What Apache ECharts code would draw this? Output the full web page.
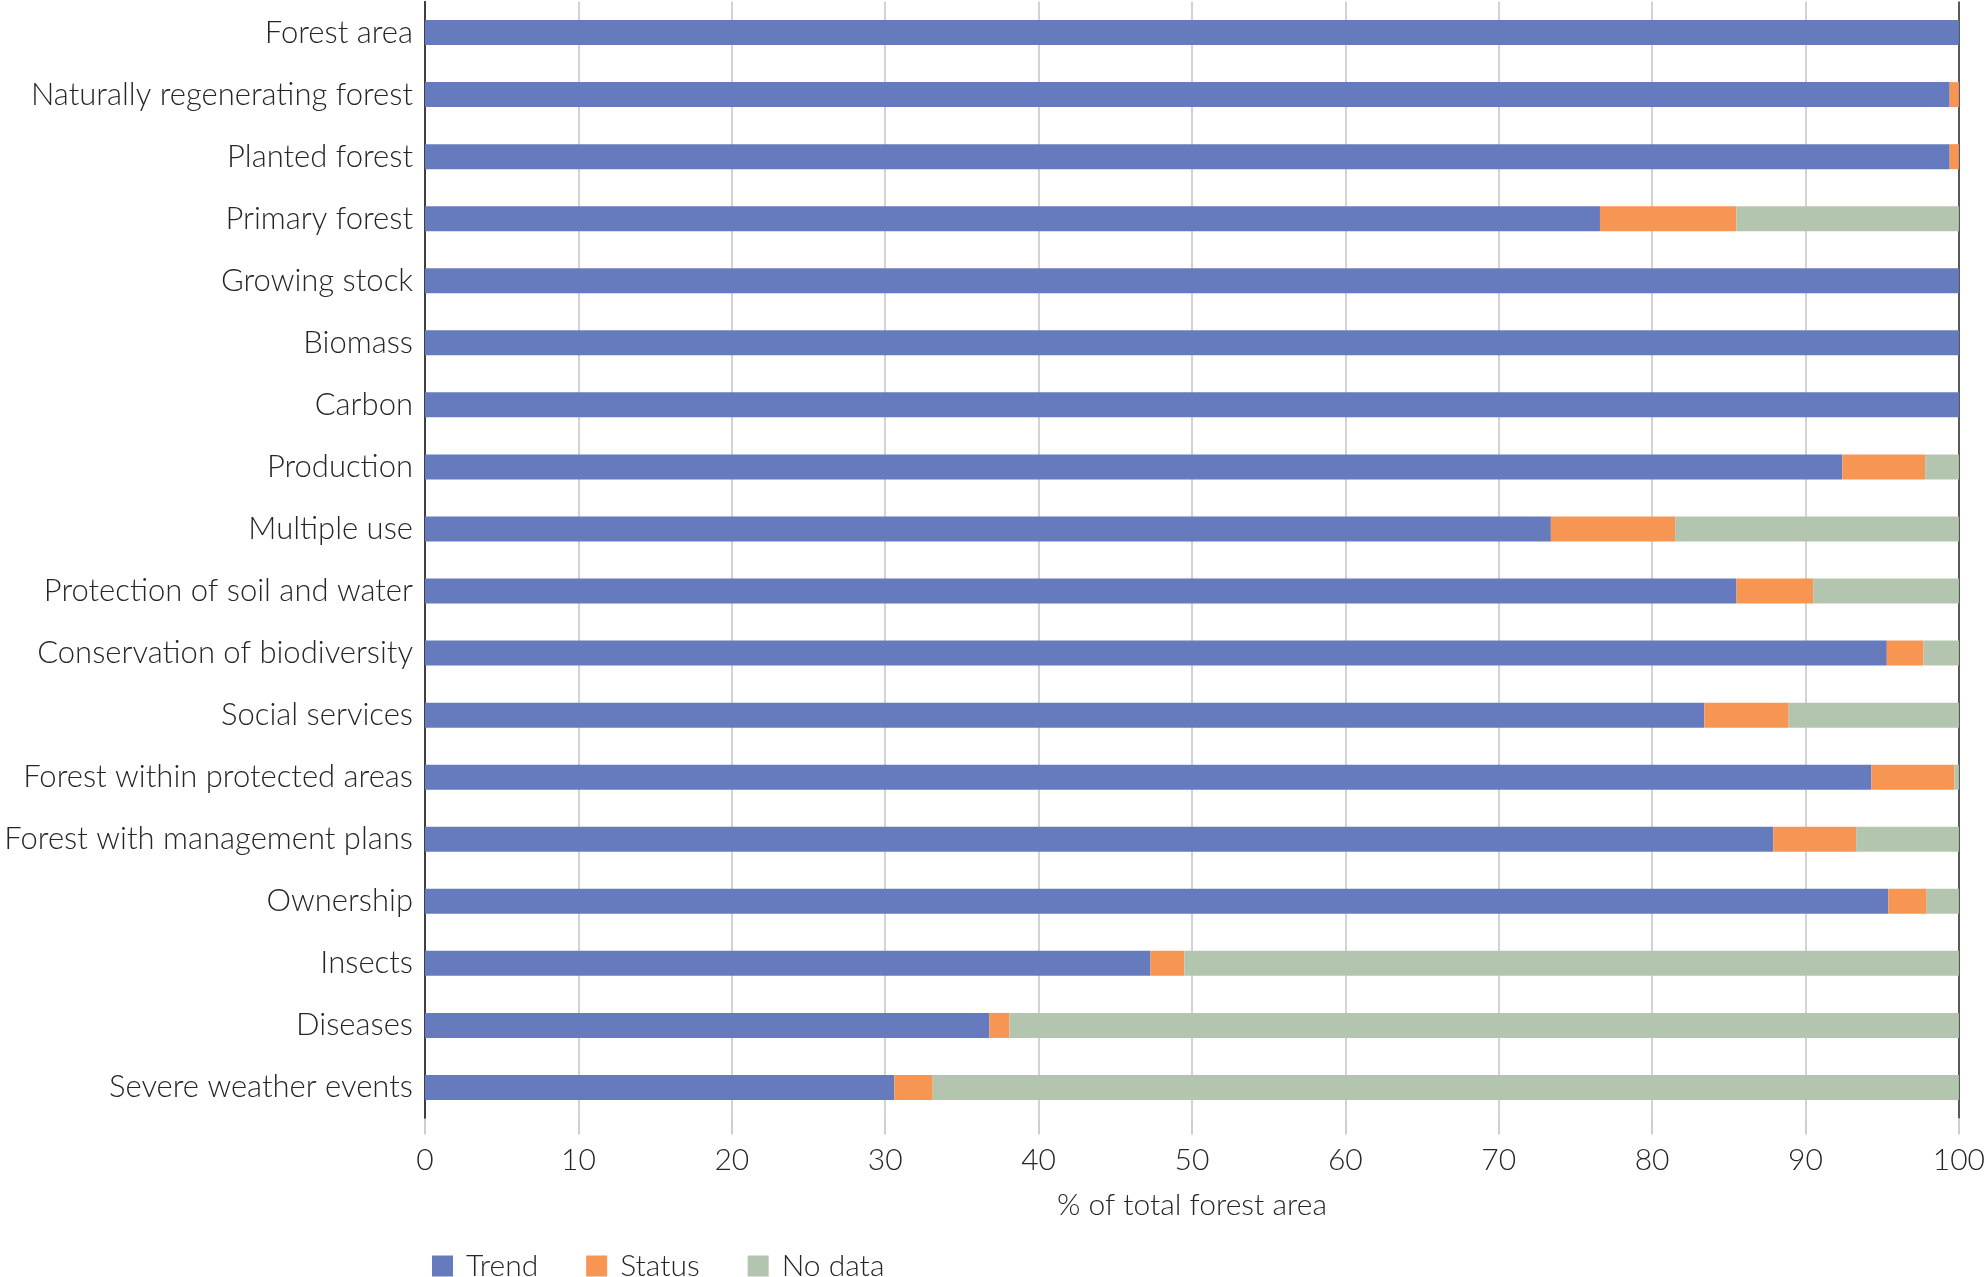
<!DOCTYPE html>
<html>
<head>
<meta charset="utf-8">
<script src="https://cdn.jsdelivr.net/npm/echarts@6/dist/echarts.min.js"></script>
<style>
html,body{margin:0;padding:0;background:#fff;}
#main{width:1988px;height:1277px;}
</style>
</head>
<body>
<div id="main"></div>
<script>
// 数据
var categories=['Forest area','Naturally regenerating forest','Planted forest','Primary forest',
    'Growing stock','Biomass','Carbon','Production','Multiple use','Protection of soil and water',
    'Conservation of biodiversity','Social services','Forest within protected areas',
    'Forest with management plans','Ownership','Insects','Diseases','Severe weather events'];
var trendVals=[100,99.4,99.4,76.6,100,100,100,92.4,73.4,85.5,95.3,83.4,94.3,87.9,95.4,47.3,36.8,30.6];
var statusVals=[0,0.6,0.6,8.9,0,0,0,5.4,8.1,5.0,2.4,5.5,5.4,5.4,2.5,2.2,1.3,2.5];
var nodataVals=[0,0,0,14.5,0,0,0,2.2,18.5,9.5,2.3,11.1,0.3,6.7,2.1,50.5,61.9,66.9];
var xTicks=[0,10,20,30,40,50,60,70,80,90,100];

var font='Lato';
var txtColor='#262626';
var mychart=echarts.init(document.getElementById('main'));

var option={
    animation:false,
    textStyle:{fontFamily:font,fontWeight:300},
    legend:{
        left:427,
        top:1246,
        itemWidth:21,
        itemHeight:21,
        itemGap:48,
        icon:'rect',
        textStyle:{fontFamily:font,fontWeight:300,fontSize:30,color:txtColor,padding:[0,0,0,8]},
        data:['Trend','Status','No data']
    },
    grid:{left:425,right:23,top:1.5,bottom:158.5,containLabel:false},
    xAxis:{
        type:'value',
        min:xTicks[0],
        max:xTicks[xTicks.length-1],
        interval:10,
        name:'% of total forest area',
        nameLocation:'middle',
        nameGap:72,
        nameTextStyle:{fontFamily:font,fontWeight:300,fontSize:30,color:txtColor},
        axisLine:{show:false},
        axisTick:{show:true,length:16,lineStyle:{color:'#bfbfbf',width:1.5}},
        axisLabel:{margin:27,fontFamily:font,fontWeight:300,fontSize:30,color:txtColor},
        splitLine:{
            show:true,
            showMinLine:true,
            showMaxLine:true,
            lineStyle:{
                width:1.5,
                color:['#333','#c4c4c4','#c4c4c4','#c4c4c4','#c4c4c4','#c4c4c4',
                       '#c4c4c4','#c4c4c4','#c4c4c4','#c4c4c4','#222']
            }
        }
    },
    yAxis:{
        type:'category',
        inverse:true,
        data:categories,
        axisLine:{show:true,lineStyle:{color:'#333',width:1.5}},
        axisTick:{show:false},
        axisLabel:{margin:12,fontFamily:font,fontWeight:300,fontSize:31,color:txtColor}
    },
    series:[{
        name:'Trend',
        type:'bar',
        stack:'total',
        barWidth:25,
        itemStyle:{color:'#657bbd'},
        data:trendVals
    },{
        name:'Status',
        type:'bar',
        stack:'total',
        barWidth:25,
        itemStyle:{color:'#f79552'},
        data:statusVals
    },{
        name:'No data',
        type:'bar',
        stack:'total',
        barWidth:25,
        itemStyle:{color:'#b4c5af'},
        data:nodataVals
    }]
};
mychart.setOption(option);
</script>
</body>
</html>
